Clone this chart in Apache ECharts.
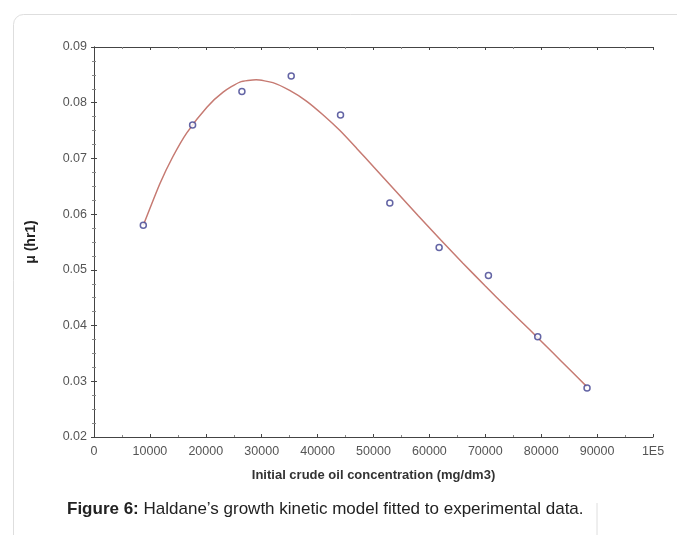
<!DOCTYPE html>
<html>
<head>
<meta charset="utf-8">
<script src="https://cdn.jsdelivr.net/npm/echarts@6/dist/echarts.min.js"></script>
<style>
  html, body { margin: 0; padding: 0; background: #fff; }
  #chart { width: 677px; height: 535px; }
</style>
</head>
<body>
<div id="chart"></div>
<script>
// Measured specific growth rate at each initial crude oil concentration
const concentration = [8820, 17640, 26460, 35280, 44100, 52920, 61740, 70560, 79380, 88200];
const growthRate = [0.058, 0.076, 0.082, 0.0848, 0.0778, 0.062, 0.054, 0.049, 0.038, 0.0288];

// Fitted Haldane model curve, sampled along the concentration range
const fitConcentration = [8820, 11800, 14100, 16600, 20200, 23100, 26100, 29000, 32000, 35000, 38000, 41000, 44000, 47000, 50000, 54000, 58000, 62000, 66000, 70000, 74000, 78000, 82000, 85000, 88200];
const fitRate = [0.058, 0.0655, 0.0703, 0.0746, 0.0792, 0.0819, 0.0837, 0.0841, 0.0836, 0.0822, 0.0803, 0.0778, 0.075, 0.0718, 0.0685, 0.0641, 0.0597, 0.0554, 0.0512, 0.0471, 0.0431, 0.0392, 0.0352, 0.0322, 0.029];

// Axis ticks
const xTicks = [0, 10000, 20000, 30000, 40000, 50000, 60000, 70000, 80000, 90000, 100000];
const yTicks = [0.02, 0.03, 0.04, 0.05, 0.06, 0.07, 0.08, 0.09];

const FONT = 'Liberation Sans, Arial, sans-serif';
const axisLineStyle = { color: '#444', width: 1 };
const labelFont = { color: '#555', fontSize: 12.5, fontFamily: FONT };

const chart = echarts.init(document.getElementById('chart'));
chart.setOption({
  animation: false,
  backgroundColor: '#fff',
  grid: { left: 94, top: 47, right: 24, bottom: 98, containLabel: false },
  xAxis: [
    {
      type: 'value', min: xTicks[0], max: xTicks[xTicks.length - 1], interval: 10000,
      axisLine: { show: true, lineStyle: axisLineStyle },
      axisTick: { show: true, inside: true, length: 3, lineStyle: axisLineStyle },
      minorTick: { show: true, splitNumber: 2, length: 2, lineStyle: { color: '#888' } },
      splitLine: { show: false },
      axisLabel: Object.assign({}, labelFont, {
        margin: 8,
        formatter: v => (v === 100000 ? '1E5' : String(v))
      }),
      name: 'Initial crude oil concentration (mg/dm3)',
      nameLocation: 'middle', nameGap: 32,
      nameTextStyle: { color: '#333', fontSize: 13, fontWeight: 'bold', fontFamily: FONT }
    },
    {
      type: 'value', position: 'top', min: xTicks[0], max: xTicks[xTicks.length - 1], interval: 10000,
      axisLine: { show: true, lineStyle: axisLineStyle },
      axisTick: { show: true, inside: true, length: 3, lineStyle: axisLineStyle },
      minorTick: { show: true, splitNumber: 2, length: 2, lineStyle: { color: '#888' } },
      splitLine: { show: false },
      axisLabel: { show: false }
    }
  ],
  yAxis: [
    {
      type: 'value', min: yTicks[0], max: yTicks[yTicks.length - 1], interval: 0.01,
      axisLine: { show: true, lineStyle: axisLineStyle },
      axisTick: { show: true, inside: true, length: 3, lineStyle: axisLineStyle },
      minorTick: { show: true, splitNumber: 4, length: 2, lineStyle: { color: '#888' } },
      splitLine: { show: false },
      axisLabel: Object.assign({}, labelFont, { margin: 7, formatter: v => v.toFixed(2) }),
      name: 'μ (hr1)',
      nameLocation: 'middle', nameGap: 56, nameRotate: 90,
      nameTextStyle: { color: '#222', fontSize: 14, fontWeight: 'bold', fontFamily: FONT }
    },
    {
      type: 'value', position: 'right', min: yTicks[0], max: yTicks[yTicks.length - 1], interval: 0.01,
      axisLine: { show: true, lineStyle: axisLineStyle },
      axisTick: { show: true, inside: true, length: 3, lineStyle: axisLineStyle },
      minorTick: { show: true, splitNumber: 4, length: 2, lineStyle: { color: '#888' } },
      splitLine: { show: false },
      axisLabel: { show: false }
    }
  ],
  series: [
    {
      type: 'line',
      data: fitConcentration.map((x, i) => [x, fitRate[i]]),
      smooth: 0.2,
      showSymbol: false,
      lineStyle: { color: '#c67a72', width: 1.5 },
      z: 2
    },
    {
      type: 'scatter',
      data: concentration.map((x, i) => [x, growthRate[i]]),
      symbol: 'circle',
      symbolSize: 6,
      itemStyle: { color: '#fff', borderColor: '#3d3f8f', borderWidth: 1.5 },
      z: 3
    }
  ],
  graphic: [
    {
      type: 'rect', left: 11, top: 12, z: -10, silent: true,
      shape: { width: 720, height: 600, r: 10 },
      style: { fill: 'none', stroke: '#dedede', lineWidth: 1 }
    },
    {
      type: 'line', silent: true,
      shape: { x1: 597, y1: 503, x2: 597, y2: 535 },
      style: { stroke: '#dedede', lineWidth: 1 }
    },
    {
      type: 'text', left: 67, top: 501,
      style: {
        text: '{b|Figure 6:} Haldane’s growth kinetic model fitted to experimental data.',
        fill: '#222', fontSize: 17, fontFamily: FONT,
        rich: { b: { fontWeight: 'bold', fontSize: 17, fill: '#222', fontFamily: FONT } }
      }
    }
  ]
});
</script>
</body>
</html>
